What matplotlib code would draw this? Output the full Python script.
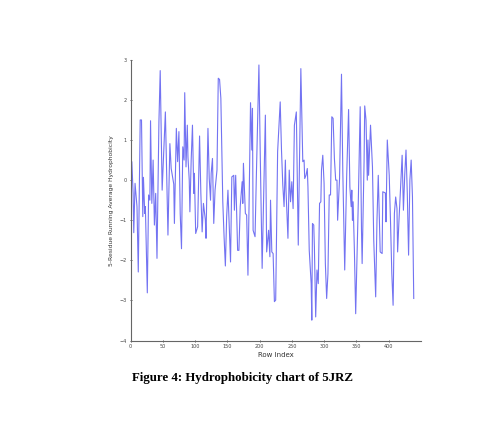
import matplotlib
matplotlib.use("Agg")
import matplotlib.pyplot as plt

# row index / running-average values (turning points)
row_index = [0, 2, 4, 5, 7, 10, 12, 15, 17, 19, 20, 22, 23, 26, 28, 30, 31, 33, 35, 37,
             39, 41, 44, 46, 49, 54, 58, 61, 63, 67, 68, 71, 73, 75, 77, 79, 81, 83, 84, 86,
             88, 89, 91, 92, 94, 96, 98, 99, 101, 104, 107, 109, 111, 113, 116, 117, 120, 122, 124, 125,
             127, 129, 131, 134, 136, 138, 140, 143, 145, 147, 149, 151, 155, 157, 160, 161, 163, 166, 168, 170,
             173, 174, 175, 178, 180, 182, 184, 186, 188, 189, 190, 193, 195, 199, 201, 204, 207, 209, 211, 214,
             216, 217, 219, 221, 223, 225, 228, 232, 234, 236, 238, 240, 241, 244, 246, 248, 250, 252, 254, 257,
             260, 264, 267, 269, 270, 272, 274, 275, 277, 280, 281, 282, 284, 285, 287, 289, 291, 293, 295, 296,
             298, 300, 302, 304, 306, 308, 310, 312, 314, 316, 318, 320, 321, 324, 327, 329, 331, 332, 335, 338,
             340, 342, 343, 344, 345, 347, 349, 351, 353, 356, 358, 359, 362, 363, 365, 367, 368, 369, 372, 375,
             377, 380, 382, 384, 387, 390, 391, 395, 396, 398, 401, 403, 405, 407, 409, 411, 413, 414, 416, 419,
             421, 423, 425, 427, 429, 431, 433, 435, 437, 439]
hydro = [-0.25, 0.46, -0.33, -1.31, -0.08, -0.66, -2.29, 1.50, 1.50, -0.91, 0.07, -0.83, -0.66, -2.81, -0.37, -0.50, 1.48, -0.58, 0.50, -1.12,
         -0.33, -1.95, 1.45, 2.73, -0.25, 1.70, -1.37, 0.91, 0.29, -0.10, -1.08, 1.29, 0.46, 1.21, -0.83, -1.71, 0.83, 0.50, 2.18, 0.33,
         1.37, 0.58, 0.00, -0.79, 0.50, 1.37, -0.33, 0.17, -1.33, -1.16, 1.10, -0.33, -1.29, -0.58, -1.00, -1.45, 1.29, 0.04, -0.50, 0.17,
         0.54, -1.08, -0.25, 0.25, 2.54, 2.51, 2.04, -0.54, -1.41, -2.14, -0.91, -0.25, -2.04, 0.08, 0.12, -0.75, 0.12, -1.75, -1.75, -0.66,
         -0.04, -0.58, 0.42, -0.83, -0.87, -2.37, -0.33, 1.93, 0.75, 1.79, -1.25, -1.41, 0.08, 2.87, 0.71, -2.20, 0.04, 1.62, -1.79, -1.25,
         -1.91, -0.50, -1.79, -1.83, -3.03, -2.99, 0.71, 1.95, 0.75, -0.12, -0.66, 0.50, -0.25, -1.45, 0.25, -0.54, -0.04, -0.71, 1.37, 1.70,
         -1.62, 2.78, 0.46, 0.50, 0.04, 0.12, 0.29, -0.17, -1.75, -2.58, -3.49, -1.08, -1.12, -1.66, -3.41, -2.24, -2.58, -0.58, -0.54, 0.25,
         0.62, -0.08, -2.08, -2.95, -2.33, -0.37, -0.37, 1.58, 1.54, 0.54, 0.00, 0.00, -1.00, 0.04, 2.64, 0.25, -1.41, -2.24, 0.08, 1.76,
         -0.17, -0.66, -0.25, -1.00, -0.54, -1.75, -3.33, -1.91, -0.58, 1.83, -1.25, -2.08, 0.46, 1.85, 1.50, 0.00, 1.00, 0.12, 1.37, 0.33,
         -1.50, -2.91, -1.00, 0.12, -1.79, -1.83, -0.29, -0.32, -1.04, 1.00, 0.12, -1.04, -2.33, -3.12, -0.83, -0.42, -0.71, -1.79, -1.04, -0.04,
         0.62, -0.75, 0.12, 0.75, -0.33, -1.87, 0.00, 0.50, -0.42, -2.95]

x_ticks = [0, 50, 100, 150, 200, 250, 300, 350, 400]
y_ticks = [-4, -3, -2, -1, 0, 1, 2, 3]

fig = plt.figure(figsize=(5.04, 4.21), dpi=100)
ax = fig.add_axes([0.259, 0.191, 0.576, 0.667])

ax.plot(row_index, hydro, color="#7373f2", lw=0.8)

ax.set_xlim(0, 450)
ax.set_ylim(-4, 3)
ax.set_xticks(x_ticks)
ax.set_yticks(y_ticks)
ax.tick_params(labelsize=3.5, length=2, width=0.6, direction="inout", colors="#444444", pad=1.5)
for s in ["top", "right"]:
    ax.spines[s].set_visible(False)
for s in ["left", "bottom"]:
    ax.spines[s].set_color("#666666")
    ax.spines[s].set_linewidth(0.8)

ax.set_xlabel("Row Index", fontsize=5, color="#333333", labelpad=2)
ax.set_ylabel("5-Residue Running Average Hydrophobicity", fontsize=4.3, color="#333333", labelpad=4)

fig.text(0.482, 0.103, "Figure 4: Hydrophobicity chart of 5JRZ", ha="center", va="center",
         fontsize=9.3, fontweight="bold", family="Liberation Serif")

fig.savefig("out.png", dpi=100)
